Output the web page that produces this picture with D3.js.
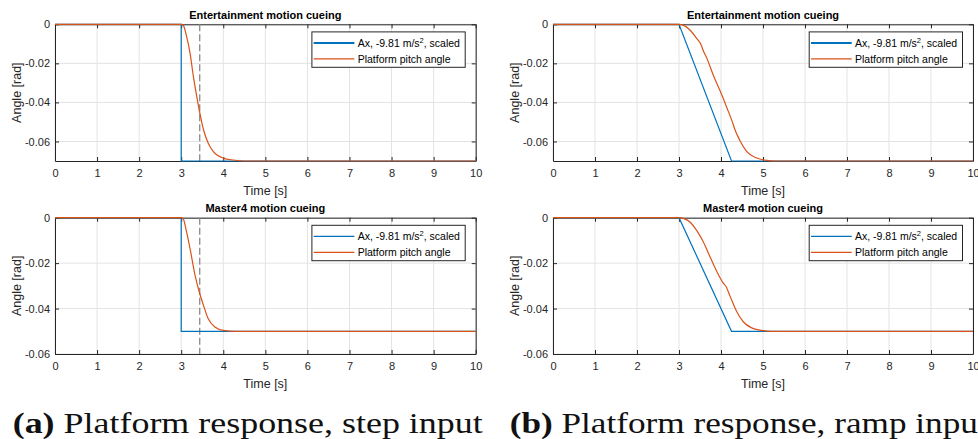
<!DOCTYPE html>
<html><head><meta charset="utf-8">
<script src="https://cdn.jsdelivr.net/npm/d3@7"></script>
<style>html,body{margin:0;padding:0;background:#fff;}svg{display:block;}</style>
</head><body>
<svg id="chart" width="978" height="439"></svg>
<script>
// ---------- data ----------
const xTicks = [0,1,2,3,4,5,6,7,8,9,10];
const xTickLabels = ["0","1","2","3","4","5","6","7","8","9","10"];
const yTicks = [0,-0.02,-0.04,-0.06];
const yTickLabels = ["0","-0.02","-0.04","-0.06"];
const titles = ["Entertainment motion cueing","Master4 motion cueing"];
const legendLabels = ["Ax, -9.81 m/s", "Platform pitch angle"];
const captions = ["Platform response, step input","Platform response, ramp input"];
const captionTags = ["(a)","(b)"];
const markerTime = 3.44;

// step input (a)
const stepEntAx = [[0,0],[3,0],[3,-0.07],[10,-0.07]];
const stepEntPitch = [[0,0],[3,0],[3.05,-0.0005],[3.11,-0.0046],[3.21,-0.0148],[3.29,-0.0268],[3.37,-0.037],[3.45,-0.0463],[3.53,-0.054],[3.64,-0.0608],[3.76,-0.0651],[4.0,-0.0685],[4.24,-0.0695],[4.5,-0.07],[10,-0.07]];
const stepM4Ax = [[0,0],[3,0],[3,-0.05],[10,-0.05]];
const stepM4Pitch = [[0,0],[3,0],[3.05,-0.0005],[3.11,-0.0048],[3.21,-0.0136],[3.33,-0.0254],[3.43,-0.0327],[3.53,-0.0386],[3.64,-0.0444],[3.8,-0.0481],[4.0,-0.0496],[4.3,-0.05],[10,-0.05]];
// ramp input (b)
const rampEntAx = [[0,0],[3,0],[4.25,-0.07],[10,-0.07]];
const rampEntPitch = [[0,0],[3,0],[3.1,-0.0004],[3.26,-0.0029],[3.42,-0.0072],[3.54,-0.0112],[3.56,-0.0125],[3.66,-0.0172],[3.82,-0.0262],[3.98,-0.0342],[4.14,-0.0427],[4.29,-0.0512],[4.32,-0.0532],[4.45,-0.0595],[4.61,-0.0651],[4.85,-0.0685],[5.09,-0.0697],[5.3,-0.07],[10,-0.07]];
const rampM4Ax = [[0,0],[3,0],[4.25,-0.05],[10,-0.05]];
const rampM4Pitch = [[0,0],[3,0],[3.1,-0.0003],[3.26,-0.0019],[3.42,-0.0056],[3.58,-0.0107],[3.74,-0.0173],[3.9,-0.0237],[4.05,-0.0287],[4.12,-0.0303],[4.21,-0.0343],[4.37,-0.0412],[4.53,-0.0458],[4.73,-0.0485],[4.97,-0.0496],[5.2,-0.05],[10,-0.05]];

// ---------- drawing ----------
const svg = d3.select("#chart");
const FONT = "'Liberation Sans', Arial, Helvetica, sans-serif";
const INK = "#262626";
const BLUE = "#0072BD", ORANGE = "#D95319";

function panel(o){
  const x = d3.scaleLinear().domain([0,10]).range([o.x0,o.x1]);
  const y = d3.scaleLinear().domain([o.ymin,0]).range([o.y1,o.y0]);
  const g = svg.append("g");
  // grid
  g.selectAll(".gx").data(xTicks).join("line")
    .attr("x1",d=>x(d)).attr("x2",d=>x(d)).attr("y1",o.y0).attr("y2",o.y1)
    .attr("stroke","#e3e3e3").attr("stroke-width",1);
  g.selectAll(".gy").data(yTicks).join("line")
    .attr("x1",o.x0).attr("x2",o.x1).attr("y1",d=>y(d)).attr("y2",d=>y(d))
    .attr("stroke","#e3e3e3").attr("stroke-width",1);
  // axes
  const fmtX = d => xTickLabels[xTicks.indexOf(d)];
  const fmtY = d => yTickLabels[yTicks.indexOf(d)];
  const styleAxis = a => {
    a.select(".domain").attr("stroke",INK).attr("stroke-width",1);
    a.selectAll(".tick line").attr("stroke",INK);
    a.selectAll("text").attr("fill",INK).attr("font-family",FONT).attr("font-size","11px");
  };
  g.append("g").attr("transform",`translate(0,${o.y1})`)
    .call(d3.axisBottom(x).tickValues(xTicks).tickFormat(fmtX).tickSizeInner(-4).tickSizeOuter(0).tickPadding(8)).call(styleAxis);
  g.append("g").attr("transform",`translate(0,${o.y0})`)
    .call(d3.axisTop(x).tickValues(xTicks).tickFormat("").tickSizeInner(-4).tickSizeOuter(0)).call(styleAxis);
  g.append("g").attr("transform",`translate(${o.x0},0)`)
    .call(d3.axisLeft(y).tickValues(yTicks).tickFormat(fmtY).tickSizeInner(-4).tickSizeOuter(0).tickPadding(5)).call(styleAxis);
  g.append("g").attr("transform",`translate(${o.x1},0)`)
    .call(d3.axisRight(y).tickValues(yTicks).tickFormat("").tickSizeInner(-4).tickSizeOuter(0)).call(styleAxis);
  // marker
  if (o.marker){
    g.append("line").attr("x1",x(markerTime)).attr("x2",x(markerTime)).attr("y1",o.y0).attr("y2",o.y1)
      .attr("stroke","#8a8a8a").attr("stroke-width",1.3).attr("stroke-dasharray","7,3");
  }
  // lines
  const lin = d3.line().x(d=>x(d[0])).y(d=>y(d[1]));
  const smooth = d3.line().x(d=>x(d[0])).y(d=>y(d[1])).curve(d3.curveMonotoneX);
  g.append("path").attr("d",lin(o.ax)).attr("fill","none").attr("stroke",BLUE).attr("stroke-width",1.2);
  g.append("path").attr("d",smooth(o.pitch)).attr("fill","none").attr("stroke",ORANGE).attr("stroke-width",1.2);
  // title
  g.append("text").attr("x",(o.x0+o.x1)/2).attr("y",o.y0-9.5).attr("dy","0.35em")
    .attr("text-anchor","middle").attr("font-family",FONT).attr("font-weight","bold").attr("font-size","11px")
    .attr("fill","#000").text(o.title);
  // axis labels
  g.append("text").attr("x",(o.x0+o.x1)/2).attr("y",o.y1+29.5).attr("dy","0.35em")
    .attr("text-anchor","middle").attr("font-family",FONT).attr("font-size","12.5px").attr("fill",INK).text("Time [s]");
  g.append("text").attr("transform",`translate(${o.x0-38.5},${(o.y0+o.y1)/2}) rotate(-90)`).attr("dy","0.35em")
    .attr("text-anchor","middle").attr("font-family",FONT).attr("font-size","12.5px").attr("fill",INK).text("Angle [rad]");
  // legend
  const lw = 153.3, lh = 35.4;
  const lx = o.x1 - 10.5 - lw, ly = o.y0 + 7.6;
  const lg = g.append("g").attr("transform",`translate(${lx},${ly})`);
  lg.append("rect").attr("width",lw).attr("height",lh).attr("fill","#fff").attr("stroke",INK).attr("stroke-width",1);
  const rows = [{c:BLUE,w:o.legendBlueW},{c:ORANGE,w:1.2}];
  rows.forEach((r,i)=>{
    const ry = 11 + i*16;
    lg.append("line").attr("x1",1.8).attr("x2",42.5).attr("y1",ry).attr("y2",ry).attr("stroke",r.c).attr("stroke-width",r.w);
    const t = lg.append("text").attr("x",45.8).attr("y",ry).attr("dy","0.35em")
      .attr("font-family",FONT).attr("font-size","10.5px").attr("fill","#000");
    if (i===0){
      t.append("tspan").text(legendLabels[0]);
      t.append("tspan").attr("dy","-4").attr("font-size","7.5px").text("2");
      t.append("tspan").attr("dy","4").text(", scaled");
    } else t.text(legendLabels[1]);
  });
}

const L = {x0:55,x1:475.7}, R = {x0:553,x1:973};
const T = {y0:24.3,y1:161,ymin:-0.07}, B = {y0:217.7,y1:354,ymin:-0.06};
panel({...L,...T,title:titles[0],ax:stepEntAx,pitch:stepEntPitch,marker:true,legendBlueW:2});
panel({...L,...B,title:titles[1],ax:stepM4Ax,pitch:stepM4Pitch,marker:true,legendBlueW:1.2});
panel({...R,...T,title:titles[0],ax:rampEntAx,pitch:rampEntPitch,marker:false,legendBlueW:2});
panel({...R,...B,title:titles[1],ax:rampM4Ax,pitch:rampM4Pitch,marker:false,legendBlueW:1.2});

// captions
const capX = [12.7, 509.7], capLen = [470, 478];
captions.forEach((c,i)=>{
  const t = svg.append("text").attr("x",capX[i]).attr("y",432.5)
    .attr("font-family","'Liberation Serif','Times New Roman',serif").attr("font-size","30px").attr("fill","#111")
    .attr("textLength",capLen[i]).attr("lengthAdjust","spacingAndGlyphs");
  t.append("tspan").attr("font-weight","bold").text(captionTags[i]);
  t.append("tspan").text(" " + c);
});
</script>
</body></html>
